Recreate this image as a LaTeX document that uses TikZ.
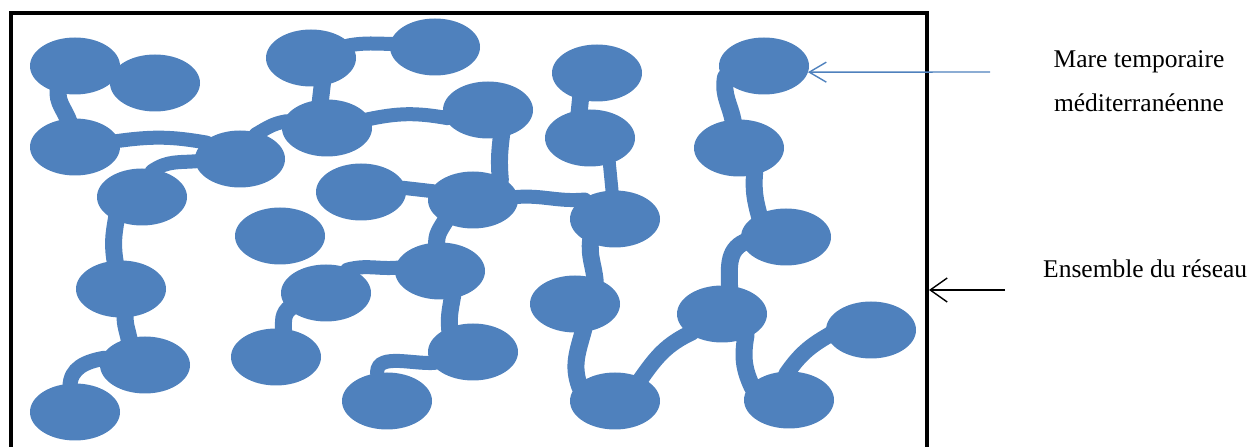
\documentclass[tikz,border=0pt]{standalone}
\usepackage{fontspec}
\setmainfont{Liberation Serif}
\usetikzlibrary{shapes.geometric,arrows.meta}
\definecolor{mareblue}{RGB}{79,129,189}
\pgfdeclarelayer{bg}
\pgfsetlayers{bg,main}
\tikzset{
  pond/.style={ellipse,fill=mareblue,draw=none,minimum width=90pt,minimum height=57pt,inner sep=0pt,outer sep=0pt},
  link/.style={draw=mareblue,line width=14pt,line cap=round,shorten <=-3pt,shorten >=-3pt},
  vlink/.style={link,line width=17pt},
  lbl/.style={font=\fontsize{25.5}{30}\selectfont,inner sep=0pt,text=black},
}
\begin{document}
\begin{tikzpicture}[x=1pt,y=1pt]
\useasboundingbox (0,0) rectangle (1253,447);
\clip (0,0) rectangle (1253,447);
% frame
\node[draw=black,line width=4pt,minimum width=916pt,minimum height=470pt,inner sep=0pt,outer sep=2pt,anchor=north west] (frame) at (9,436) {};
% ponds
\node[pond] (e1) at (75,381) {};
\node[pond] (e2) at (155,364) {};
\node[pond] (e3) at (75,300) {};
\node[pond] (e4) at (240,288) {};
\node[pond] (e5) at (142,250) {};
\node[pond] (e6) at (311,389) {};
\node[pond] (e7) at (435,400) {};
\node[pond] (e8) at (327,319) {};
\node[pond] (e9) at (488,337) {};
\node[pond] (e10) at (361,255) {};
\node[pond] (e11) at (473,247) {};
\node[pond] (e12) at (280,211) {};
\node[pond] (e13) at (121,158) {};
\node[pond] (e14) at (145,82) {};
\node[pond] (e15) at (75,35) {};
\node[pond] (e16) at (326,154) {};
\node[pond] (e17) at (440,176) {};
\node[pond] (e18) at (276,90) {};
\node[pond] (e19) at (473,95) {};
\node[pond] (e20) at (387,46) {};
\node[pond] (e21) at (597,374) {};
\node[pond] (e22) at (590,309) {};
\node[pond] (e23) at (764,381) {};
\node[pond] (e24) at (739,299) {};
\node[pond] (e25) at (615,228) {};
\node[pond] (e26) at (786,210) {};
\node[pond] (e27) at (575,143) {};
\node[pond] (e28) at (615,46) {};
\node[pond] (e29) at (722,133) {};
\node[pond] (e30) at (871,117) {};
\node[pond] (e31) at (789,47) {};
% connectors
\begin{pgfonlayer}{bg}
\draw[vlink] (e1.237) to[out=265,in=110] (e3.104);
\draw[link] (e3.8) to[out=8,in=170] (e4.155);
\draw[link] (e5.66) to[out=35,in=185] (e4.183);
\draw[link] (e4.55) to[out=30,in=190] (e8.172);
\draw[vlink] (e6.-68) -- (e8.103);
\draw[link] (e6.18) to[out=10,in=180] (e7.176);
\draw[link] (e8.12) to[out=12,in=170] (e9.190);
\draw[vlink] (e9.-64) to[out=-97,in=95] (e11.40);
\draw[link] (e10.5) -- (e11.168);
\draw[link] (e11.4) to[out=5,in=185] (e25.150);
\draw[vlink] (e21.238) -- (e22.111);
\draw[vlink,line width=13pt] (e22.-53) -- (e25.96);
\draw[vlink] (e23.200) to[out=-100,in=100] (e24.102);
\draw[vlink] (e24.-60) to[out=-95,in=105] (e26.140);
\draw[vlink] (e5.222) to[out=-100,in=100] (e13.102);
\draw[vlink] (e13.-82) to[out=-92,in=100] (e14.121);
\draw[link,line width=15pt] (e14.172) to[out=190,in=90] (e15.100);
\draw[vlink] (e11.218) to[out=240,in=95] (e17.97);
\draw[link] (e16.45) to[out=15,in=185] (e17.176);
\draw[vlink] (e16.203) to[out=215,in=90] (e18.75);
\draw[vlink] (e17.-66) to[out=-100,in=95] (e19.134);
\draw[link] (e19.195) to[out=183,in=100] (e20.110);
\draw[vlink] (e25.224) to[out=-97,in=95] (e27.52);
\draw[vlink] (e27.-74) to[out=-105,in=110] (e28.155);
\draw[link,line width=16pt] (e28.41) to[out=55,in=205] (e29.211);
\draw[vlink] (e26.188) to[out=205,in=90] (e29.75);
\draw[vlink] (e29.-46) to[out=-100,in=115] (e31.158);
\draw[link,line width=16pt] (e31.92) to[out=55,in=210] (e30.188);
\end{pgfonlayer}
% labels
\node[lbl,anchor=base] (mare1) at (1139,379.5) {Mare temporaire};
\node[lbl,anchor=base] (mare2) at (1139,335.5) {méditerranéenne};
\node[lbl,anchor=base west] (ens) at (1043,169) {Ensemble du réseau};
\coordinate (maretail) at (990,375);
\coordinate (enstail) at (1005,157);
\draw[mareblue,line width=1.4pt,-{Straight Barb[length=17pt,width=20pt]}] (maretail) -- (e23.-8);
\draw[black,line width=1.4pt,-{Straight Barb[length=17pt,width=24pt]}] (enstail) -- (enstail -| frame.east);
\end{tikzpicture}
\end{document}
